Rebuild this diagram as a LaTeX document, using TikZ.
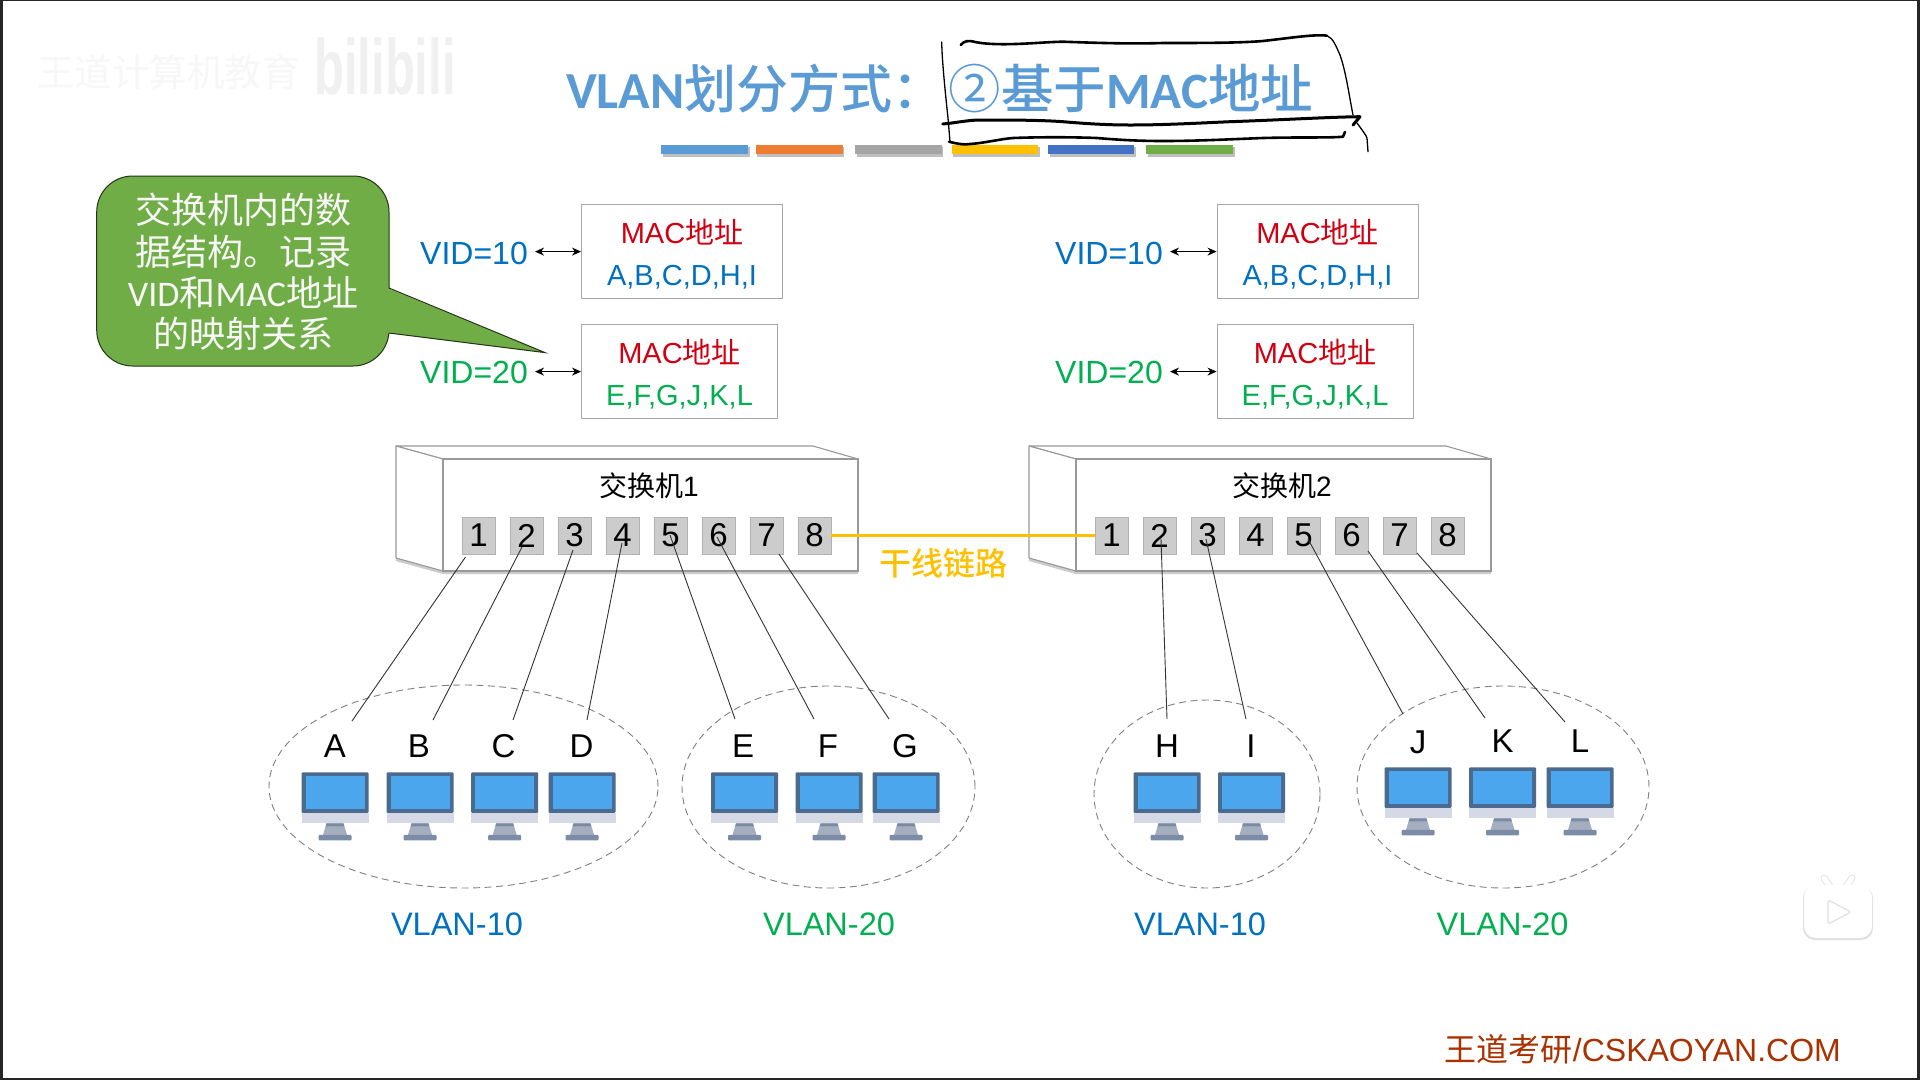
\documentclass[tikz,border=0pt]{standalone}
\usepackage{fontspec}
\setmainfont{Liberation Sans}
\newfontfamily\cjk{Noto Sans CJK SC}
\newfontfamily\cjkheavy{Noto Sans CJK SC Medium}
\newfontfamily\calibri{Carlito}
\usetikzlibrary{shapes.geometric,arrows.meta}
\newcommand{\fs}[1]{\fontsize{#1}{#1}\selectfont}
\definecolor{vlanblue}{HTML}{0070C0}
\definecolor{vlangreen}{HTML}{00B050}
\definecolor{macred}{HTML}{D00012}
\definecolor{titleblue}{HTML}{5B9BD5}
\definecolor{trunk}{HTML}{FFC000}
\definecolor{calloutgreen}{HTML}{70AD47}
\tikzset{
  wire/.style={line width=0.9pt, black!80},
  ink/.style={line width=2.6pt, black, line cap=round, line join=round},
  thinink/.style={line width=1.3pt, black, line cap=round, line join=round},
  swface/.style={draw=black!40, line width=1.1pt, fill=white},
  port/.style={draw=black!30, line width=0.7pt, fill=black!20, inner sep=0pt, minimum width=33pt, minimum height=37pt, font=\fs{33}},
  macbox/.style={draw=black!35, line width=1pt, fill=white, inner sep=0pt, minimum height=94pt, align=center, font=\fontsize{29}{41.5}\selectfont, text height=71pt},
  vid/.style={inner sep=0pt, font=\fs{32}},
  link/.style={line width=0.9pt, black, <->, >={Stealth[length=9pt,width=8pt]}, shorten <=7pt},
  group/.style={draw=black!50, dash pattern=on 7pt off 4.5pt, line width=0.9pt, ellipse, inner sep=0pt},
  host/.style={inner sep=0pt, font=\fs{33}},
  vlanname/.style={inner sep=0pt, font=\fs{32.5}}
}
% one computer, #1 = middle of the screen, #2 = top of the screen
\newcommand{\monitor}[2]{
  \begin{scope}[shift={(#1,#2)}]
    \fill[color={rgb,255:red,75;green,106;blue,143}, rounded corners=1pt] (-33.5,0) rectangle (33.5,40.5);
    \fill[color={rgb,255:red,75;green,166;blue,238}] (-29.5,4) rectangle (29.5,37);
    \fill[color={rgb,255:red,213;green,217;blue,229}] (-33.5,40.5) rectangle (33.5,50.5);
    \fill[color={rgb,255:red,165;green,174;blue,191}] (-8.5,51) -- (8.5,51) -- (12,62.5) -- (-12,62.5) -- cycle;
    \fill[color={rgb,255:red,122;green,138;blue,165}] (-8.5,51) -- (8.5,51) -- (9.2,54) -- (-9.2,54) -- cycle;
    \fill[color={rgb,255:red,124;green,139;blue,166}, rounded corners=1pt] (-16.5,62.5) rectangle (16.5,68);
  \end{scope}
}
\begin{document}
\begin{tikzpicture}[x=1pt,y=-1pt]
  \useasboundingbox (0,0) rectangle (1920,1080);
  \fill[black!85] (0,0) rectangle (1920,1080);
  \fill[white] (2.5,1.2) rectangle (1917,1078);

  % faint marks of the video
  \node (mark1) [anchor=west, inner sep=0pt, text=black!3, font=\cjk\fs{37.5}] at (37,72) {王道计算机教育};
  \node (mark2) [anchor=west, inner sep=0pt, text=black!6, font=\bfseries\fs{49}, yscale=1.6, transform shape] at (314,66) {bilibili};

  % title
  \node (title) [anchor=west, inner sep=0pt, text=titleblue, font=\fs{52}] at (566,89) {{\calibri\bfseries VLAN}{\cjkheavy 划分方式：}\hspace{4pt}{\fs{52.5}\cjk ②}{\fs{52.5}\cjkheavy 基于}{\fs{51}\calibri\bfseries MAC}{\fs{52.5}\cjkheavy 地址}};
  \fill[black!25] (663,147) rectangle (750,157);
  \fill[black!25] (757,147) rectangle (844,157);
  \fill[black!25] (857,147) rectangle (943,157);
  \fill[black!25] (953,147) rectangle (1040,157);
  \fill[black!25] (1050,147) rectangle (1136,157);
  \fill[black!25] (1148,147) rectangle (1235,157);
  \fill[color=titleblue] (661,144.5) rectangle (748,154);
  \fill[color={rgb,255:red,237;green,125;blue,49}] (755.5,144.5) rectangle (842.5,154);
  \fill[color={rgb,255:red,165;green,165;blue,165}] (855,144.5) rectangle (941.5,154);
  \fill[color=trunk] (951.5,144.5) rectangle (1038,154);
  \fill[color={rgb,255:red,68;green,114;blue,196}] (1048,144.5) rectangle (1134,154);
  \fill[color=calloutgreen] (1146,144.5) rectangle (1233,154);

  % callout
  \draw[fill=calloutgreen, draw=black!70!calloutgreen, line width=1pt, rounded corners=36pt] (96.7,176) rectangle (389,366);
  \fill[color=calloutgreen] (387.5,288) -- (545,352.6) -- (387.5,333) -- cycle;
  \draw[draw=black!70!calloutgreen, line width=1pt] (389,288) -- (545,352.6) -- (389,333);
  \node (note) [inner sep=0pt, align=center, text=black!3!white, font=\fontsize{36}{41.3}\selectfont] at (243,272) {{\cjk 交换机内的数}\\{\cjk 据结构。记录}\\{\calibri VID}{\cjk 和}{\calibri MAC}{\cjk 地址}\\{\cjk 的映射关系}};

  % mapping tables
  \node (box1) [macbox, minimum width=201pt] at (682,251.6) {{\color{macred}MAC{\cjk 地址}}\\{\color{vlanblue}A,B,C,D,H,I}};
  \node (box2) [macbox, minimum width=196pt] at (679.5,371.6) {{\color{macred}MAC{\cjk 地址}}\\{\color{vlangreen}E,F,G,J,K,L}};
  \node (box3) [macbox, minimum width=201pt] at (1317.5,251.6) {{\color{macred}MAC{\cjk 地址}}\\{\color{vlanblue}A,B,C,D,H,I}};
  \node (box4) [macbox, minimum width=196pt] at (1315,371.6) {{\color{macred}MAC{\cjk 地址}}\\{\color{vlangreen}E,F,G,J,K,L}};
  \node (vid1) [vid, text=vlanblue] at (474,253) {VID=10};
  \node (vid2) [vid, text=vlangreen] at (474,372) {VID=20};
  \node (vid3) [vid, text=vlanblue] at (1109,253) {VID=10};
  \node (vid4) [vid, text=vlangreen] at (1109,372) {VID=20};
  \draw[link] (vid1.east |- box1.west) -- (box1.west);
  \draw[link] (vid2.east |- box2.west) -- (box2.west);
  \draw[link] (vid3.east |- box3.west) -- (box3.west);
  \draw[link] (vid4.east |- box4.west) -- (box4.west);

  % switch 1
  \draw[line width=3pt, black!20] (396,559.5) -- (443,572.5) -- (858,572.5);
  \draw[swface, line join=round] (396,446) -- (813,446) -- (858,459) -- (443,459) -- cycle;
  \draw[swface, line join=round] (396,446) -- (443,459) -- (443,571) -- (396,558) -- cycle;
  \node (sw1) [swface, inner sep=0pt, minimum width=415pt, minimum height=112pt] at (650.5,515) {};
  \node (sw1name) [inner sep=0pt, font=\fs{28}] at (649,486) {{\cjk 交换机}1};
  \node (p1) [port] at (478.5,535.5) {1};
  \node (p2) [port] at (526.5,535.5) {2};
  \node (p3) [port] at (574.5,535.5) {3};
  \node (p4) [port] at (622.5,535.5) {4};
  \node (p5) [port] at (670.5,535.5) {5};
  \node (p6) [port] at (718.5,535.5) {6};
  \node (p7) [port] at (766.5,535.5) {7};
  \node (p8) [port] at (814.5,535.5) {8};

  % switch 2
  \draw[line width=3pt, black!20] (1029,559.5) -- (1076,572.5) -- (1491,572.5);
  \draw[swface, line join=round] (1029,446) -- (1446,446) -- (1491,459) -- (1076,459) -- cycle;
  \draw[swface, line join=round] (1029,446) -- (1076,459) -- (1076,571) -- (1029,558) -- cycle;
  \node (sw2) [swface, inner sep=0pt, minimum width=415pt, minimum height=112pt] at (1283.5,515) {};
  \node (sw2name) [inner sep=0pt, font=\fs{28}] at (1282,486) {{\cjk 交换机}2};
  \node (q1) [port] at (1111.5,535.5) {1};
  \node (q2) [port] at (1159.5,535.5) {2};
  \node (q3) [port] at (1207.5,535.5) {3};
  \node (q4) [port] at (1255.5,535.5) {4};
  \node (q5) [port] at (1303.5,535.5) {5};
  \node (q6) [port] at (1351.5,535.5) {6};
  \node (q7) [port] at (1399.5,535.5) {7};
  \node (q8) [port] at (1447.5,535.5) {8};

  % trunk
  \draw[line width=2.4pt, color=trunk] (p8.east) -- (q1.west);
  \node (trunkname) [inner sep=0pt, text=trunk, font=\cjkheavy\fs{32}] at (943,563) {干线链路};

  % groups
  \node (g1) [group, minimum width=389pt, minimum height=203pt] at (463.5,786.5) {};
  \node (g2) [group, minimum width=293pt, minimum height=202pt] at (828.5,787) {};
  \node (g3) [group, minimum width=226pt, minimum height=188pt] at (1207,794) {};
  \node (g4) [group, minimum width=292pt, minimum height=202pt] at (1503,787) {};

  % computers
  \monitor{335}{772.3}
  \monitor{420}{772.3}
  \monitor{504.7}{772.3}
  \monitor{582}{772.3}
  \monitor{744.5}{772.3}
  \monitor{829}{772.3}
  \monitor{906}{772.3}
  \monitor{1167}{772.3}
  \monitor{1251.5}{772.3}
  \monitor{1418}{767.3}
  \monitor{1502.5}{767.3}
  \monitor{1580}{767.3}

  \node (hA) [host] at (335,746) {A};
  \node (hB) [host] at (419,746) {B};
  \node (hC) [host] at (503.5,746) {C};
  \node (hD) [host] at (581.6,746) {D};
  \node (hE) [host] at (743,746) {E};
  \node (hF) [host] at (828,746) {F};
  \node (hG) [host] at (905,746) {G};
  \node (hH) [host] at (1167,746) {H};
  \node (hI) [host] at (1251,746) {I};
  \node (hJ) [host] at (1418,742) {J};
  \node (hK) [host] at (1502.5,741) {K};
  \node (hL) [host] at (1580,741) {L};

  % cables
  \coordinate (endA) at (352,721);
  \coordinate (endB) at (433,720);
  \coordinate (endC) at (513,720);
  \coordinate (endD) at (587,720);
  \coordinate (endE) at (735,719);
  \coordinate (endF) at (814,719);
  \coordinate (endG) at (889,719);
  \coordinate (endH) at (1167,719);
  \coordinate (endI) at (1246,719);
  \coordinate (endJ) at (1403,714);
  \coordinate (endK) at (1485,718);
  \coordinate (endL) at (1565,722);
  \draw[wire] ([shift={(-13,21.5)}]p1.center) -- (endA);
  \draw[wire] ([shift={(-4.5,11.5)}]p2.center) -- (endB);
  \draw[wire] ([shift={(-1.5,14.5)}]p3.center) -- (endC);
  \draw[wire] ([shift={(-0.5,7.5)}]p4.center) -- (endD);
  \draw[wire] ([shift={(-0.5,-0.5)}]p5.center) -- (endE);
  \draw[wire] ([shift={(-1.5,1.5)}]p6.center) -- (endF);
  \draw[wire] ([shift={(12.5,18.5)}]p7.center) -- (endG);
  \draw[wire] ([shift={(1.5,3.5)}]q2.center) -- (endH);
  \draw[wire] ([shift={(-1.5,3.5)}]q3.center) -- (endI);
  \draw[wire] ([shift={(4.5,3.5)}]q5.center) -- (endJ);
  \draw[wire] ([shift={(16.5,15.5)}]q6.center) -- (endK);
  \draw[wire] ([shift={(17.5,17.5)}]q7.center) -- (endL);

  \node (name1) [vlanname, text=vlanblue] at (457,924.5) {VLAN-10};
  \node (name2) [vlanname, text=vlangreen] at (829,924.5) {VLAN-20};
  \node (name3) [vlanname, text=vlanblue] at (1200,924.5) {VLAN-10};
  \node (name4) [vlanname, text=vlangreen] at (1502.5,924.5) {VLAN-20};

  % footer
  \node (site) [anchor=east, inner sep=0pt, font=\fs{32}, color={rgb,255:red,169;green,50;blue,0}] at (1841,1049) {{\cjk 王道考研}/CSKAOYAN.COM};

  % play button of the video
  \draw[line width=7pt, line cap=round, black!10] (1824,878) -- (1831,888) (1852,878) -- (1845,888);
  \draw[line width=5pt, line cap=round, white] (1824,878) -- (1831,888) (1852,878) -- (1845,888);
  \fill[black!12, rounded corners=12pt] (1803,886) rectangle (1873,940);
  \fill[white, rounded corners=12pt] (1804,885) rectangle (1872,938);
  \draw[black!12, fill=white, line width=1.2pt, line join=round, rounded corners=2pt] (1828,900) -- (1851,912) -- (1828,924) -- cycle;

  % pen marks over the title
  \draw[ink] (960.7,45) .. controls (964,41) and (968,40) .. (975,42) .. controls (1000,47) and (1040,42) .. (1063,41.7)
    .. controls (1100,43) and (1130,44) .. (1163,43) .. controls (1200,43) and (1240,43) .. (1263,41) .. controls (1290,38) and (1315,34) .. (1327,35.7);
  \draw[thinink] (1327,35.7) .. controls (1333,38) and (1336,46) .. (1340,55) .. controls (1346,72) and (1349,95) .. (1353,115);
  \draw[thinink] (941.7,42) .. controls (942,60) and (945,90) .. (948,118) -- (950,141.7);
  \draw[ink, line width=3pt] (942.7,124) .. controls (955,123) and (968,120) .. (980,120) .. controls (1010,120) and (1040,120) .. (1063,121.7)
    .. controls (1090,124) and (1110,125) .. (1130,125) .. controls (1165,125) and (1200,123) .. (1230,121.7) .. controls (1280,120) and (1330,117) .. (1360,116.7) -- (1353,125);
  \draw[ink] (949,141.7) .. controls (958,144) and (965,145) .. (970,144) .. controls (985,143) and (1000,139) .. (1013,138)
    .. controls (1040,137) and (1070,137) .. (1097,138) .. controls (1120,140) and (1140,141) .. (1163,141) .. controls (1200,141) and (1235,139) .. (1263,138) .. controls (1300,137) and (1330,138) .. (1343,136.7) -- (1345,132);
  \draw[thinink] (1357,123) .. controls (1362,130) and (1366,135) .. (1367,138) -- (1368,151.7);
\end{tikzpicture}
\end{document}
